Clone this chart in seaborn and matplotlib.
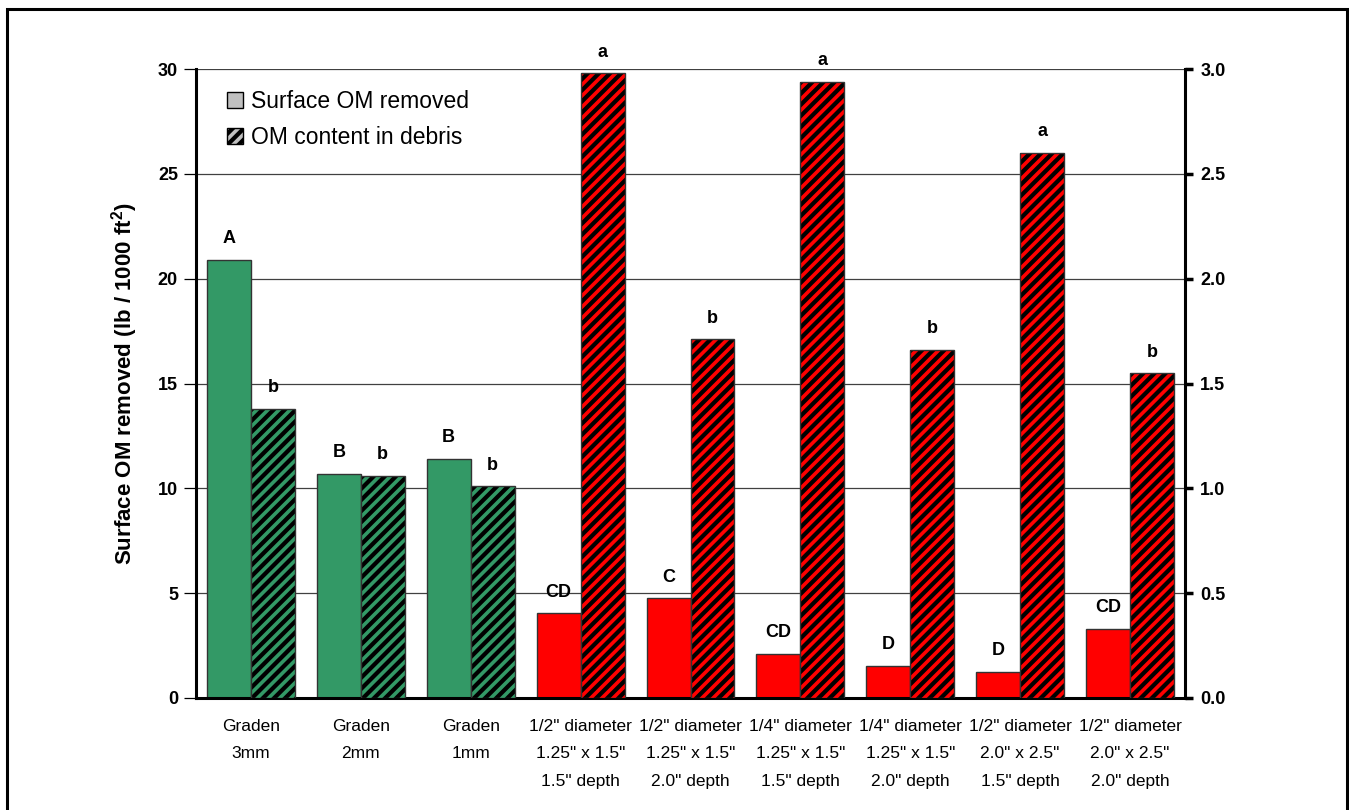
import numpy as np
import pandas as pd
import matplotlib
matplotlib.use('Agg')
import matplotlib.pyplot as plt
from matplotlib.patches import Patch, Rectangle
import seaborn as sns

# data
treatments = ['Graden\n3mm', 'Graden\n2mm', 'Graden\n1mm',
              '1/2" diameter\n1.25" x 1.5"\n1.5" depth',
              '1/2" diameter\n1.25" x 1.5"\n2.0" depth',
              '1/4" diameter\n1.25" x 1.5"\n1.5" depth',
              '1/4" diameter\n1.25" x 1.5"\n2.0" depth',
              '1/2" diameter\n2.0" x 2.5"\n1.5" depth',
              '1/2" diameter\n2.0" x 2.5"\n2.0" depth']
surface_om = [20.9, 10.7, 11.4, 4.05, 4.75, 2.1, 1.55, 1.25, 3.3]
debris_om = [1.38, 1.06, 1.01, 2.98, 1.71, 2.94, 1.66, 2.60, 1.55]
surface_letters = ['A', 'B', 'B', 'CD', 'C', 'CD', 'D', 'D', 'CD']
debris_letters = ['b', 'b', 'b', 'a', 'b', 'a', 'b', 'a', 'b']
series = ['Surface OM removed', 'OM content in debris']
bar_colors = ['#339966'] * 3 + ['#ff0000'] * 6

left_ticks = [0, 5, 10, 15, 20, 25, 30]
right_ticks = [0.0, 0.5, 1.0, 1.5, 2.0, 2.5, 3.0]

sns.set_style('white')
plt.rcParams['font.family'] = ['Liberation Sans', 'DejaVu Sans']
plt.rcParams['mathtext.default'] = 'regular'
plt.rcParams['hatch.linewidth'] = 2.6
for k in ['text.color', 'axes.labelcolor', 'xtick.color', 'ytick.color']:
    plt.rcParams[k] = 'black'

df_surface = pd.DataFrame({'treatment': treatments, 'value': surface_om, 'series': series[0]})
df_debris = pd.DataFrame({'treatment': treatments, 'value': debris_om, 'series': series[1]})

fig = plt.figure(figsize=(13.49, 8.10), dpi=100)
ax = fig.add_axes([196 / 1349, 112 / 810, 989 / 1349, 629 / 810])
ax2 = ax.twinx()

sns.barplot(data=df_surface, x='treatment', y='value', hue='series', hue_order=series,
            order=treatments, palette=['#c0c0c0', '#c0c0c0'], saturation=1, width=0.8,
            dodge=True, legend=False, errorbar=None, ax=ax,
            edgecolor='#333333', linewidth=1)
sns.barplot(data=df_debris, x='treatment', y='value', hue='series', hue_order=series,
            order=treatments, palette=['#c0c0c0', '#c0c0c0'], saturation=1, width=0.8,
            dodge=True, legend=False, errorbar=None, ax=ax2, linewidth=0)

for bar, col in zip(ax.patches, bar_colors):
    bar.set_facecolor(col)

# hatched bars: black fill, coloured stripes, thin dark outline
for bar, col in zip(list(ax2.patches), bar_colors):
    bar.set_facecolor('black')
    bar.set_edgecolor(col)
    bar.set_hatch('///')
    bar.set_linewidth(0)
    ax2.add_patch(Rectangle((bar.get_x(), 0), bar.get_width(), bar.get_height(),
                            fill=False, edgecolor='#333333', lw=1, zorder=bar.get_zorder() + 0.1))

for bar, lab in zip(ax.patches, surface_letters):
    ax.annotate(lab, (bar.get_x() + bar.get_width() / 2, bar.get_height()), xytext=(0, 9),
                textcoords='offset points', ha='center', va='bottom',
                fontsize=13, fontweight='bold')
for bar, lab in zip(ax2.patches[:len(debris_letters)], debris_letters):
    ax2.annotate(lab, (bar.get_x() + bar.get_width() / 2, bar.get_height()), xytext=(0, 9),
                 textcoords='offset points', ha='center', va='bottom',
                 fontsize=13, fontweight='bold')

ax.set_xlim(-0.5, 8.5)
ax.set_ylim(0, 30)
ax2.set_ylim(0, 3)

ax.set_yticks(left_ticks)
ax.set_yticklabels([str(t) for t in left_ticks], fontsize=13, fontweight='bold')
ax2.set_yticks(right_ticks)
ax2.set_yticklabels([f'{t:.1f}' for t in right_ticks], fontsize=13, fontweight='bold')

ax.set_xticks(range(len(treatments)))
ax.set_xticklabels(treatments, fontsize=12.5, linespacing=2.05)
ax.set_xticks(np.arange(-0.5, len(treatments), 1), minor=True)
ax.tick_params(axis='x', which='major', length=0, pad=15)
ax.tick_params(axis='x', which='minor', length=7, width=2, direction='out', color='black')
ax.tick_params(axis='y', length=9, width=0.9, direction='out', color='black', pad=4, left=True)
ax2.tick_params(axis='y', length=6, width=2.5, direction='out', color='black', pad=5, right=True)

ax.set_xlabel('')
ax2.set_xlabel('')
ax2.set_ylabel('')
ax.set_ylabel('Surface OM removed (lb / 1000 ft$^2$)', fontsize=16, fontweight='bold', labelpad=13)

ax.yaxis.grid(True, color='#404040', lw=0.9)
ax.set_axisbelow(True)

for a in (ax, ax2):
    for s in a.spines.values():
        s.set_visible(False)
ax.spines['left'].set_visible(True)
ax.spines['left'].set_linewidth(2.2)
ax.spines['left'].set_color('black')
ax.spines['bottom'].set_visible(True)
ax.spines['bottom'].set_linewidth(2.2)
ax.spines['bottom'].set_color('black')
ax2.spines['right'].set_visible(True)
ax2.spines['right'].set_linewidth(2.2)
ax2.spines['right'].set_color('black')

handles = [Patch(facecolor='#c0c0c0', edgecolor='black', lw=1),
           (Patch(facecolor='black', edgecolor='#c0c0c0', hatch='///', lw=0),
            Patch(fill=False, edgecolor='black', lw=1))]
ax2.legend(handles, series, loc='upper left', bbox_to_anchor=(0.01, 1.0), frameon=False,
           fontsize=16.5, handlelength=0.7, handleheight=0.7, handletextpad=0.35,
           labelspacing=0.6)

# outer frame of the picture
fig.patches.append(Rectangle((7 / 1349, -0.05), 1340 / 1349, 1.05 - 9 / 810,
                             transform=fig.transFigure, fill=False,
                             edgecolor='black', lw=2.2))

fig.savefig('out.png', dpi=100)
